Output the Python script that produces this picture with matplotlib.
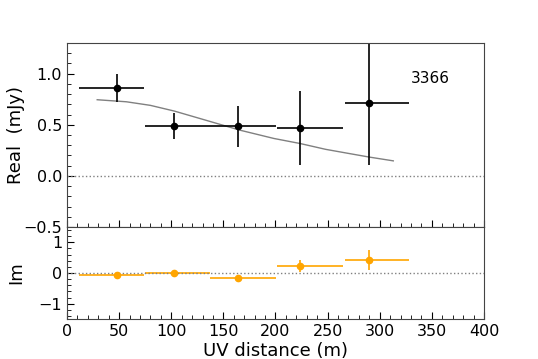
import numpy as np
import matplotlib
matplotlib.use("Agg")
from matplotlib import pyplot as plt
from matplotlib.ticker import MultipleLocator

# binned visibilities (UV distance in m)
uv = [47.7, 102.7, 163.6, 223.5, 289.4]
bin_lo = [12, 74.4, 137.6, 201.8, 266.3]
bin_hi = [73.7, 137.0, 200.5, 265.0, 328.2]
re = [0.86, 0.49, 0.485, 0.467, 0.712]
re_err = [0.14, 0.125, 0.2, 0.365, 0.61]
im = [-0.067, 0.0, -0.167, 0.233, 0.42]
im_err = [0.05, 0.05, 0.05, 0.19, 0.32]

# model curve
model_uv = [29, 57, 80, 103, 132.7, 165.6, 198.5, 223.5, 248, 270, 289.4, 313]
model_re = [0.745, 0.725, 0.69, 0.634, 0.546, 0.448, 0.366, 0.317, 0.26, 0.22, 0.185, 0.147]

label = "3366"

xerr = [np.array(uv) - np.array(bin_lo), np.array(bin_hi) - np.array(uv)]

fig = plt.figure(figsize=(5.38, 3.59), dpi=100)
ax1 = fig.add_axes([0.1245, 0.3677, 0.7751, 0.5125])
ax2 = fig.add_axes([0.1245, 0.1114, 0.7751, 0.2563])

ax1.plot(model_uv, model_re, color="gray", lw=1.0)
ax1.errorbar(uv, re, yerr=re_err, xerr=xerr, fmt="o", color="black",
             ms=4.5, lw=1.2, capsize=0)
ax1.axhline(0, color="gray", ls=":", lw=1)
ax1.text(330, 0.95, label, fontsize=11, va="center")
ax1.set_xlim(0, 400)
ax1.set_ylim(-0.5, 1.3)
ax1.set_ylabel("Real  (mJy)", fontsize=13)
ax1.yaxis.set_major_locator(MultipleLocator(0.5))
ax1.yaxis.set_minor_locator(MultipleLocator(0.1))
ax1.xaxis.set_major_locator(MultipleLocator(50))
ax1.xaxis.set_minor_locator(MultipleLocator(10))
ax1.tick_params(labelbottom=False)

ax2.errorbar(uv, im, yerr=im_err, xerr=xerr, fmt="o", color="orange",
             ms=4.5, lw=1.2, capsize=0)
ax2.axhline(0, color="gray", ls=":", lw=1)
ax2.set_xlim(0, 400)
ax2.set_ylim(-1.5, 1.5)
ax2.set_ylabel("Im", fontsize=13)
ax2.set_xlabel("UV distance (m)", fontsize=13, labelpad=2)
ax2.yaxis.set_major_locator(MultipleLocator(1))
ax2.yaxis.set_minor_locator(MultipleLocator(0.2))
ax2.xaxis.set_major_locator(MultipleLocator(50))
ax2.xaxis.set_minor_locator(MultipleLocator(10))

for ax in (ax1, ax2):
    ax.tick_params(which="both", direction="in", labelsize=11.5)
    ax.tick_params(which="major", length=5)
    ax.tick_params(which="minor", length=3)
    for s in ax.spines.values():
        s.set_color("#444444")

ax1.yaxis.set_label_coords(-0.1, 0.5)
ax2.yaxis.set_label_coords(-0.1, 0.5)

fig.savefig("out.png", dpi=100)
